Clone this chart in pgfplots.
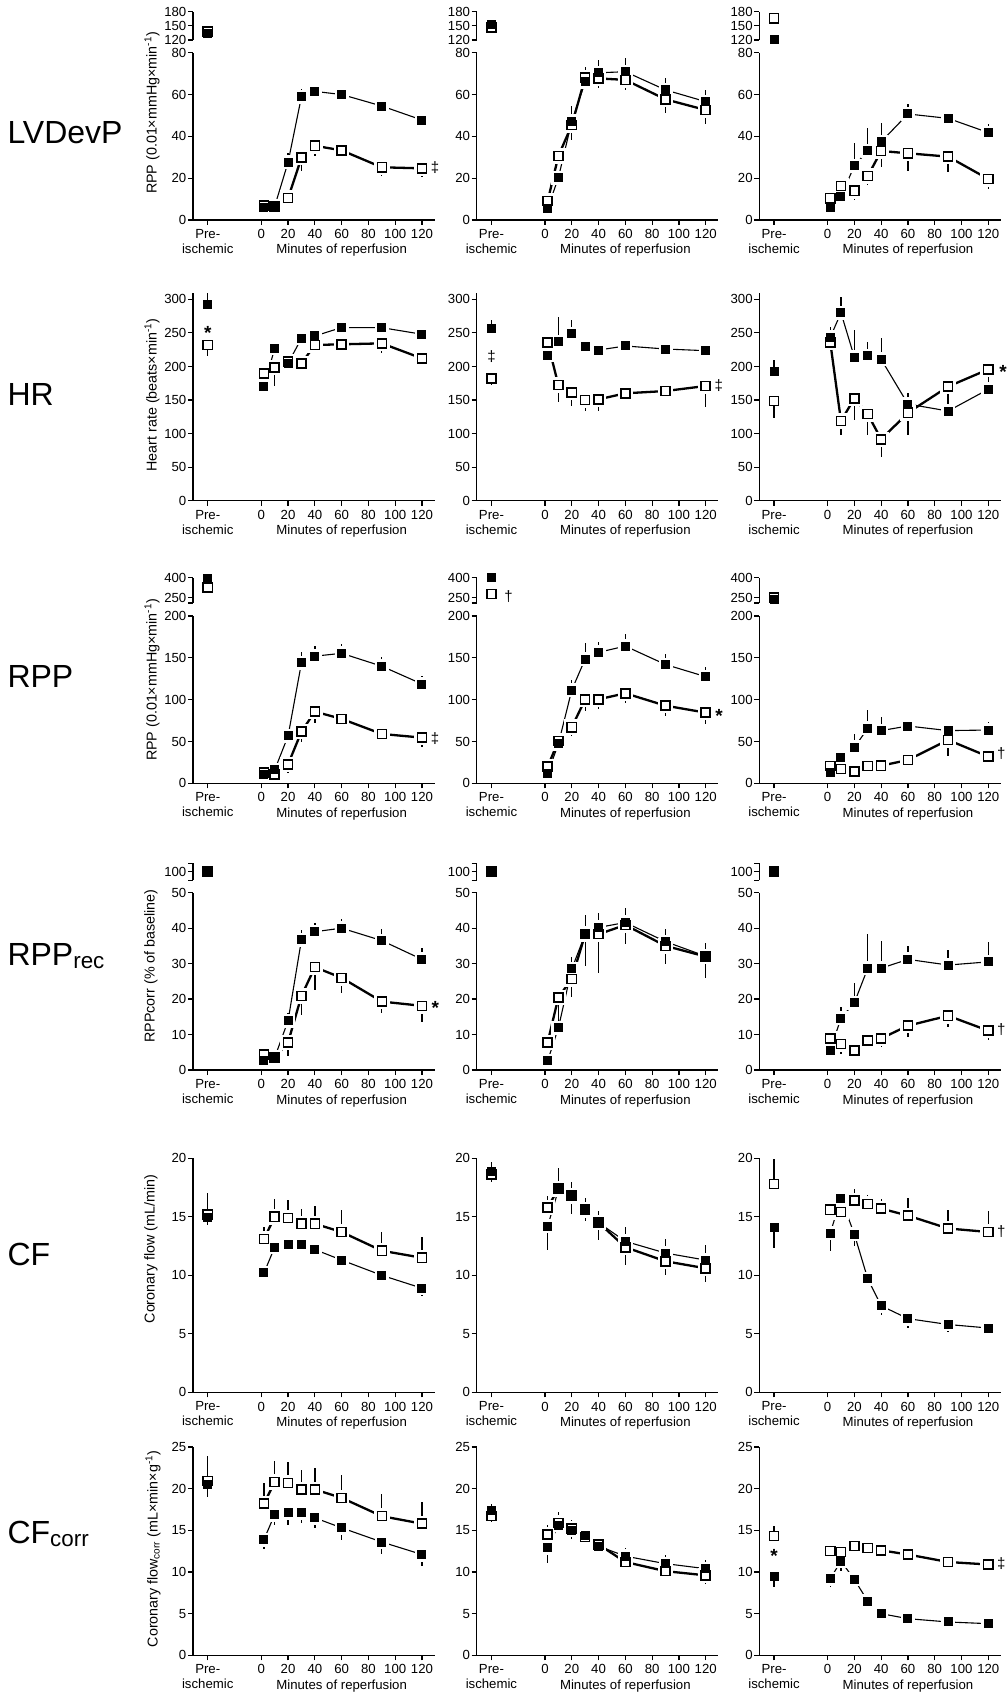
\documentclass[border=0pt]{standalone}
\usepackage{fontspec}
\setmainfont{Liberation Sans}
\usepackage{pgfplots}
\pgfplotsset{compat=1.18}
\newcommand{\fs}{\fontsize{13.2}{15}\selectfont}
\newcommand{\ls}{\fontsize{14.3}{16}\selectfont}
\newcommand{\ts}{\fontsize{32}{36}\selectfont}
\pgfdeclareplotmark{hsq}{%
  \pgfsetfillcolor{white}%
  \pgfpathrectangle{\pgfpoint{-\pgfplotmarksize}{-\pgfplotmarksize}}{\pgfpoint{2*\pgfplotmarksize}{2*\pgfplotmarksize}}%
  \pgfusepath{fill}%
}
\pgfdeclareplotmark{fsq}{%
  \pgfsetfillcolor{black}%
  \pgfpathrectangle{\pgfpoint{-\pgfplotmarksize}{-\pgfplotmarksize}}{\pgfpoint{2*\pgfplotmarksize}{2*\pgfplotmarksize}}%
  \pgfusepath{fill}%
}
\pgfdeclareplotmark{osq}{%
  \pgfsetlinewidth{1.5pt}%
  \pgfsetstrokecolor{black}%
  \pgfsetfillcolor{white}%
  \pgfpathrectangle{\pgfpoint{-\pgfplotmarksize+0.75pt}{-\pgfplotmarksize+0.75pt}}{\pgfpoint{2*\pgfplotmarksize-1.5pt}{2*\pgfplotmarksize-1.5pt}}%
  \pgfusepath{fill,stroke}%
}
\tikzset{
  ann/.style={font=\fontsize{15}{16}\selectfont, anchor=west},
  star/.style={font=\bfseries\fontsize{19}{20}\selectfont, yshift=-3pt},
}
\pgfplotsset{
  myax/.style={anchor=south west, scale only axis, width=241.7pt, xmin=-51, xmax=129.5, clip=false,
    axis y line*=left, axis line style={-, line width=1.2pt},
    tick align=outside, major tick length=5pt, tick style={line width=1.2pt, black},
    ticklabel style={font=\fs}, yticklabel style={inner xsep=1.5pt},
    /pgf/number format/assume math mode=true},
  mainax/.style={myax, axis x line*=bottom, ymin=0, xtick={-40,0,20,40,60,80,100,120},
    xticklabels={{Pre-\\ischemic},0,20,40,60,80,100,120},
    xticklabel style={align=center, inner ysep=4.2pt},
    after end axis/.code={\node[font=\fs, anchor=base, yshift=-34pt] at (axis cs:60,0) {Minutes of reperfusion};}},
  upax/.style={myax, hide x axis},
  fl/.style={black, line width=1.1pt, mark=none},
  ol/.style={black, line width=2.3pt, mark=none},
  fh/.style={only marks, mark=hsq, mark size=7pt},
  oh/.style={only marks, mark=hsq, mark size=7.8pt},
  errs/.style={error bars/y dir=both, error bars/y explicit, error bars/error mark=none,
    error bars/error bar style={line width=1.3pt, solid, black}},
  fm/.style={black, only marks, mark=fsq, mark size=4.5pt, errs},
  om/.style={black, only marks, mark=osq, mark size=5.3pt, errs},
}
% #1 open series, #2 filled series
\newcommand{\pair}[2]{%
  \addplot[ol] coordinates {#1};
  \addplot[fl] coordinates {#2};
  \addplot[oh] coordinates {#1};
  \addplot[fh] coordinates {#2};
  \addplot[om] coordinates {#1};
  \addplot[fm] coordinates {#2};
}
\newcommand{\pre}[2]{%
  \addplot[om] coordinates {#1};
  \addplot[fm] coordinates {#2};
}
\begin{document}
\begin{tikzpicture}
\useasboundingbox (0pt,0pt) rectangle (1006pt,-1693pt);
% row titles
\node[anchor=base west, font=\ts] at (4pt,-144pt) {LVDevP};
\node[anchor=base west, font=\ts] at (4pt,-405pt) {HR};
\node[anchor=base west, font=\ts] at (4pt,-687pt) {RPP};
\node[anchor=base west, font=\ts] at (4pt,-965pt) {RPP\textsubscript{rec}};
\node[anchor=base west, font=\ts] at (4pt,-1265pt) {CF};
\node[anchor=base west, font=\ts] at (4pt,-1543pt) {CF\textsubscript{corr}};
% y labels
\node[rotate=90, font=\ls] at (152pt,-113pt) {RPP (0.01×mmHg×min\textsuperscript{-1})};
\node[rotate=90, font=\ls] at (152pt,-395pt) {Heart rate (beats×min\textsuperscript{-1})};
\node[rotate=90, font=\ls] at (152pt,-680pt) {RPP (0.01×mmHg×min\textsuperscript{-1})};
\node[rotate=90, font=\ls] at (151pt,-966pt) {RPPcorr (\% of baseline)};
\node[rotate=90, font=\ls] at (151pt,-1249pt) {Coronary flow (mL/min)};
\node[rotate=90, font=\ls] at (153pt,-1549pt) {Coronary flow\textsubscript{corr} (mL×min×g\textsuperscript{-1})};

%================ ROW 1 LVDevP
\begin{axis}[upax, at={(193pt,-40pt)}, height=28.3pt, ymin=120, ymax=180, ytick={120,150,180}]
\pre{(-40,137.6) += (0,0) -= (0,3)}{(-40,134) += (0,3) -= (0,0)}
\end{axis}
\begin{axis}[mainax, at={(193pt,-220pt)}, height=167.3pt, ymax=80, ytick={0,20,40,60,80}]
\pair{(2,7) += (0,0) -= (0,1) (10,6.5) += (0,0) -= (0,1.5) (20,10.5) += (0,0) -= (0,4) (30,29.8) += (0,0) -= (0,6.5) (40,35.5) += (0,0) -= (0,5) (60,33.3) += (0,0) -= (0,3.5) (90,25.2) += (0,0) -= (0,4) (120,24.7) += (0,0) -= (0,4.3)}
{(2,6) += (0,1) -= (0,0) (10,6.5) += (0,1) -= (0,0) (20,27.6) += (0,4.5) -= (0,0) (30,59) += (0,3.5) -= (0,0) (40,61.5) += (0,3) -= (0,0) (60,60) += (0,2) -= (0,0) (90,54.5) += (0,1.5) -= (0,0) (120,47.8) += (0,2.7) -= (0,0)}
\node[ann] at (axis cs:124,25) {‡};
\end{axis}

\begin{axis}[upax, at={(476.7pt,-40pt)}, height=28.3pt, ymin=120, ymax=180, ytick={120,150,180}]
\pre{(-40,147) += (0,0) -= (0,3)}{(-40,153) += (0,3) -= (0,0)}
\end{axis}
\begin{axis}[mainax, at={(476.7pt,-220pt)}, height=167.3pt, ymax=80, ytick={0,20,40,60,80}]
\pair{(2,9.1) += (0,0) -= (0,1) (10,30.6) += (0,0) -= (0,4) (20,45.4) += (0,0) -= (0,7) (30,68) += (0,5) -= (0,0) (40,67.7) += (0,0) -= (0,4.5) (60,67) += (0,0) -= (0,5) (90,57.7) += (0,0) -= (0,6.5) (120,52.6) += (0,0) -= (0,6.5)}
{(2,5.6) += (0,1) -= (0,0) (10,20.2) += (0,2) -= (0,0) (20,47.2) += (0,7.5) -= (0,0) (30,66) += (0,5) -= (0,0) (40,70.4) += (0,6) -= (0,0) (60,70.9) += (0,6.5) -= (0,0) (90,62.2) += (0,5.5) -= (0,0) (120,56.6) += (0,5.5) -= (0,0)}
\end{axis}

\begin{axis}[upax, at={(759.3pt,-40pt)}, height=28.3pt, ymin=120, ymax=180, ytick={120,150,180}]
\pre{(-40,166) += (0,0) -= (0,0)}{(-40,121.5) += (0,5) -= (0,0)}
\end{axis}
\begin{axis}[mainax, at={(759.3pt,-220pt)}, height=167.3pt, ymax=80, ytick={0,20,40,60,80}]
\pair{(2,10.4) += (0,0) -= (0,1) (10,16.3) += (0,0) -= (0,1) (20,14) += (0,0) -= (0,4.4) (30,21) += (0,0) -= (0,4.3) (40,33) += (0,0) -= (0,7.5) (60,31.9) += (0,0) -= (0,8.3) (90,30.3) += (0,0) -= (0,7.3) (120,19.6) += (0,0) -= (0,4.8)}
{(2,6) += (0,0.5) -= (0,0) (10,11.2) += (0,1) -= (0,0) (20,26) += (0,10.7) -= (0,0) (30,33.1) += (0,10.7) -= (0,0) (40,37.4) += (0,9) -= (0,0) (60,50.7) += (0,5) -= (0,0) (90,48.6) += (0,3.5) -= (0,0) (120,41.8) += (0,4.2) -= (0,0)}
\end{axis}

%================ ROW 2 HR
\begin{axis}[mainax, at={(193pt,-500.7pt)}, height=207.4pt, ymax=309, ytick={0,50,...,300}]
\pre{(-40,232) += (0,0) -= (0,16)}{(-40,291.6) += (0,18) -= (0,0)}
\pair{(2,189.7) += (0,0) -= (0,3) (10,198.7) += (0,0) -= (0,28) (20,207) += (0,12) -= (0,12) (30,204.6) += (0,0) -= (0,10) (40,232) += (0,0) -= (0,11) (60,233) += (0,0) -= (0,9) (90,234.4) += (0,0) -= (0,15) (120,212) += (0,0) -= (0,12)}
{(2,170) += (0,0) -= (0,0) (10,227) += (0,8) -= (0,0) (20,204.6) += (0,8) -= (0,0) (30,242) += (0,10) -= (0,0) (40,245.4) += (0,8) -= (0,0) (60,258) += (0,6) -= (0,0) (90,257.8) += (0,7) -= (0,0) (120,248) += (0,7) -= (0,0)}
\node[star] at (axis cs:-40,254) {*};
\end{axis}

\begin{axis}[mainax, at={(476.7pt,-500.7pt)}, height=207.4pt, ymax=309, ytick={0,50,...,300}]
\pre{(-40,182) += (0,0) -= (0,10)}{(-40,256) += (0,13) -= (0,0)}
\pair{(2,235.4) += (0,0) -= (0,0) (10,172.4) += (0,0) -= (0,25) (20,161.4) += (0,0) -= (0,21) (30,150) += (0,0) -= (0,17) (40,151) += (0,0) -= (0,17) (60,160) += (0,0) -= (0,10) (90,163.4) += (0,0) -= (0,12) (120,170.9) += (0,0) -= (0,31)}
{(2,217) += (0,0) -= (0,0) (10,237) += (0,36) -= (0,0) (20,249) += (0,20) -= (0,0) (30,229.5) += (0,8) -= (0,0) (40,224.5) += (0,3) -= (0,0) (60,230.5) += (0,3) -= (0,0) (90,226) += (0,3) -= (0,0) (120,223.5) += (0,3) -= (0,0)}
\node[font=\fontsize{15}{16}\selectfont] at (axis cs:-40,214) {‡};
\node[ann] at (axis cs:124,172) {‡};
\end{axis}

\begin{axis}[mainax, at={(759.3pt,-500.7pt)}, height=207.4pt, ymax=309, ytick={0,50,...,300}]
\pre{(-40,148.5) += (0,0) -= (0,26)}{(-40,192) += (0,18) -= (0,0)}
\pair{(2,236) += (0,0) -= (0,0) (10,118.7) += (0,0) -= (0,21) (20,152.5) += (0,0) -= (0,33) (30,129) += (0,0) -= (0,31) (40,91.4) += (0,0) -= (0,26) (60,131) += (0,0) -= (0,33) (90,170) += (0,0) -= (0,36.4) (120,195.7) += (0,0) -= (0,31)}
{(2,243.4) += (0,16) -= (0,0) (10,280) += (0,24) -= (0,0) (20,213.6) += (0,40) -= (0,0) (30,216) += (0,21) -= (0,0) (40,210.6) += (0,32) -= (0,0) (60,144) += (0,17) -= (0,0) (90,133.6) += (0,0) -= (0,0) (120,166) += (0,3) -= (0,0)}
\node[star] at (axis cs:131,197) {*};
\end{axis}

%================ ROW 3 RPP
\begin{axis}[upax, at={(193pt,-603pt)}, height=25.3pt, ymin=210, ymax=400, ytick={250,400}, extra y ticks={210}, extra y tick labels={}]
\pre{(-40,325) += (0,0) -= (0,0)}{(-40,395) += (0,0) -= (0,0)}
\end{axis}
\begin{axis}[mainax, at={(193pt,-783.3pt)}, height=167.3pt, ymax=200, ytick={0,50,...,200}]
\pair{(2,13) += (0,0) -= (0,2) (10,10.8) += (0,0) -= (0,2) (20,22.7) += (0,0) -= (0,10) (30,61.8) += (0,0) -= (0,13) (40,85.7) += (0,0) -= (0,14) (60,77) += (0,0) -= (0,8) (90,59) += (0,0) -= (0,9) (120,54.6) += (0,0) -= (0,11.6)}
{(2,10) += (0,1) -= (0,0) (10,16) += (0,2) -= (0,0) (20,56.6) += (0,5) -= (0,0) (30,144) += (0,13) -= (0,0) (40,152) += (0,12) -= (0,0) (60,155.4) += (0,11) -= (0,0) (90,140) += (0,10.6) -= (0,0) (120,118.7) += (0,9) -= (0,0)}
\node[ann] at (axis cs:124,54) {‡};
\end{axis}

\begin{axis}[upax, at={(476.7pt,-603pt)}, height=25.3pt, ymin=210, ymax=400, ytick={250,400}, extra y ticks={210}, extra y tick labels={}]
\pre{(-40,277.5) += (0,0) -= (0,0)}{(-40,400) += (0,0) -= (0,0)}
\node[ann] at (axis cs:-33,262) {†};
\end{axis}
\begin{axis}[mainax, at={(476.7pt,-783.3pt)}, height=167.3pt, ymax=200, ytick={0,50,...,200}]
\pair{(2,20) += (0,0) -= (0,2) (10,50.6) += (0,0) -= (0,5) (20,67) += (0,0) -= (0,11) (30,100.4) += (0,0) -= (0,13.4) (40,100.4) += (0,0) -= (0,11) (60,107.6) += (0,0) -= (0,12) (90,92.8) += (0,0) -= (0,12.3) (120,84.5) += (0,0) -= (0,14)}
{(2,12) += (0,1) -= (0,0) (10,47) += (0,3) -= (0,0) (20,111.5) += (0,12.5) -= (0,0) (30,148.6) += (0,18.7) -= (0,0) (40,156.6) += (0,12.7) -= (0,0) (60,164) += (0,14) -= (0,0) (90,142) += (0,13) -= (0,0) (120,127.5) += (0,11.5) -= (0,0)}
\node[star] at (axis cs:130,84) {*};
\end{axis}

\begin{axis}[upax, at={(759.3pt,-603pt)}, height=25.3pt, ymin=210, ymax=400, ytick={250,400}, extra y ticks={210}, extra y tick labels={}]
\pre{(-40,252) += (0,0) -= (0,0)}{(-40,238) += (0,0) -= (0,0)}
\end{axis}
\begin{axis}[mainax, at={(759.3pt,-783.3pt)}, height=167.3pt, ymax=200, ytick={0,50,...,200}]
\pair{(2,20.7) += (0,0) -= (0,2) (10,17) += (0,0) -= (0,2) (20,14) += (0,0) -= (0,1) (30,20.7) += (0,0) -= (0,2) (40,21) += (0,0) -= (0,2) (60,27.9) += (0,0) -= (0,2) (90,51.8) += (0,0) -= (0,19) (120,31.9) += (0,0) -= (0,6)}
{(2,12.7) += (0,1) -= (0,0) (10,31) += (0,3) -= (0,0) (20,43) += (0,15.6) -= (0,0) (30,65.7) += (0,22) -= (0,0) (40,63) += (0,16.7) -= (0,0) (60,68.5) += (0,8) -= (0,0) (90,63) += (0,2) -= (0,0) (120,63.7) += (0,10) -= (0,0)}
\node[ann] at (axis cs:124,36) {†};
\end{axis}

%================ ROW 4 RPPrec
\begin{axis}[upax, at={(193pt,-880.3pt)}, height=17.1pt, ymin=91, ymax=109, ytick={100}, extra y ticks={91,109}, extra y tick labels={}]
\pre{(-40,100) += (0,0) -= (0,0)}{(-40,100) += (0,0) -= (0,0)}
\end{axis}
\begin{axis}[mainax, at={(193pt,-1070pt)}, height=177.3pt, ymax=50, ytick={0,10,...,50}]
\pair{(2,4.4) += (0,0) -= (0,0) (10,3.5) += (0,0) -= (0,0) (20,7.8) += (0,0) -= (0,3.8) (30,20.9) += (0,0) -= (0,5.4) (40,29) += (0,0) -= (0,6.3) (60,26) += (0,0) -= (0,4.4) (90,19.3) += (0,0) -= (0,3.1) (120,18.1) += (0,0) -= (0,4.5)}
{(2,2.6) += (0,0) -= (0,0) (10,3.5) += (0,0) -= (0,0) (20,13.9) += (0,2.3) -= (0,0) (30,36.7) += (0,2.8) -= (0,0) (40,39) += (0,2.5) -= (0,0) (60,40) += (0,2.7) -= (0,0) (90,36.5) += (0,3.2) -= (0,0) (120,31.2) += (0,3.1) -= (0,0)}
\node[star] at (axis cs:130,18.3) {*};
\end{axis}

\begin{axis}[upax, at={(476.7pt,-880.3pt)}, height=17.1pt, ymin=91, ymax=109, ytick={100}, extra y ticks={91,109}, extra y tick labels={}]
\pre{(-40,100) += (0,0) -= (0,0)}{(-40,100) += (0,0) -= (0,0)}
\end{axis}
\begin{axis}[mainax, at={(476.7pt,-1070pt)}, height=177.3pt, ymax=50, ytick={0,10,...,50}]
\pair{(2,7.8) += (0,0) -= (0,1) (10,20.5) += (0,0) -= (0,8.3) (20,25.7) += (0,0) -= (0,5) (30,38.3) += (0,0) -= (0,9) (40,38.3) += (0,0) -= (0,11) (60,40.9) += (0,0) -= (0,5.4) (90,35) += (0,0) -= (0,5) (120,32) += (0,0) -= (0,6)}
{(2,2.6) += (0,0) -= (0,0) (10,11.9) += (0,1) -= (0,0) (20,28.5) += (0,3.5) -= (0,0) (30,38.3) += (0,5.3) -= (0,0) (40,40.2) += (0,4) -= (0,0) (60,41.6) += (0,4) -= (0,0) (90,36.2) += (0,3.5) -= (0,0) (120,32.1) += (0,3.6) -= (0,0)}
\end{axis}

\begin{axis}[upax, at={(759.3pt,-880.3pt)}, height=17.1pt, ymin=91, ymax=109, ytick={100}, extra y ticks={91,109}, extra y tick labels={}]
\pre{(-40,100) += (0,0) -= (0,0)}{(-40,100) += (0,0) -= (0,0)}
\end{axis}
\begin{axis}[mainax, at={(759.3pt,-1070pt)}, height=177.3pt, ymax=50, ytick={0,10,...,50}]
\pair{(2,8.9) += (0,0) -= (0,1) (10,7.3) += (0,0) -= (0,2.8) (20,5.5) += (0,0) -= (0,0.5) (30,8.3) += (0,0) -= (0,2.2) (40,8.9) += (0,0) -= (0,2.3) (60,12.5) += (0,0) -= (0,3.1) (90,15.3) += (0,0) -= (0,3.1) (120,11.1) += (0,0) -= (0,2.5)}
{(2,5.6) += (0,0) -= (0,0) (10,14.6) += (0,3.3) -= (0,0) (20,19) += (0,5.4) -= (0,0) (30,28.7) += (0,9.6) -= (0,0) (40,28.7) += (0,7.7) -= (0,0) (60,31.2) += (0,3.7) -= (0,0) (90,29.6) += (0,4.2) -= (0,0) (120,30.5) += (0,5.7) -= (0,0)}
\node[ann] at (axis cs:124,11.5) {†};
\end{axis}

%================ ROW 5 CF
\begin{axis}[mainax, at={(193pt,-1392.4pt)}, height=234.2pt, ymax=20, ytick={0,5,...,20}]
\pre{(-40,15.2) += (0,1.8) -= (0,0)}{(-40,14.9) += (0,0) -= (0,0.6)}
\pair{(2,13.1) += (0,1) -= (0,0) (10,15) += (0,1.5) -= (0,0) (20,14.9) += (0,1.5) -= (0,0) (30,14.4) += (0,1.3) -= (0,0) (40,14.4) += (0,1.5) -= (0,0) (60,13.7) += (0,1.9) -= (0,0) (90,12.1) += (0,1.6) -= (0,0) (120,11.5) += (0,1.8) -= (0,0)}
{(2,10.2) += (0,0) -= (0,0.6) (10,12.4) += (0,0) -= (0,0.5) (20,12.6) += (0,0) -= (0,0.4) (30,12.6) += (0,0) -= (0,0.5) (40,12.2) += (0,0) -= (0,0.5) (60,11.3) += (0,0) -= (0,0.5) (90,10) += (0,0) -= (0,0.6) (120,8.9) += (0,0) -= (0,0.7)}
\end{axis}

\begin{axis}[mainax, at={(476.7pt,-1392.4pt)}, height=234.2pt, ymax=20, ytick={0,5,...,20}]
\pre{(-40,18.6) += (0,0) -= (0,0.6)}{(-40,18.9) += (0,0.8) -= (0,0)}
\pair{(2,15.8) += (0,1) -= (0,0) (10,17.4) += (0,1.8) -= (0,0) (20,16.8) += (0,1.2) -= (0,0) (30,15.6) += (0,1) -= (0,0) (40,14.5) += (0,1) -= (0,0) (60,12.4) += (0,0) -= (0,1.5) (90,11.2) += (0,0) -= (0,1.2) (120,10.6) += (0,0) -= (0,1.2)}
{(2,14.2) += (0,0) -= (0,2) (10,17.3) += (0,0.5) -= (0,0) (20,16.7) += (0,0) -= (0,1.5) (30,15.6) += (0,0) -= (0,1) (40,14.5) += (0,0) -= (0,1.5) (60,12.9) += (0,1.2) -= (0,0) (90,11.9) += (0,1.2) -= (0,0) (120,11.3) += (0,1.3) -= (0,0)}
\end{axis}

\begin{axis}[mainax, at={(759.3pt,-1392.4pt)}, height=234.2pt, ymax=20, ytick={0,5,...,20}]
\pre{(-40,17.8) += (0,2.1) -= (0,0)}{(-40,14.1) += (0,0) -= (0,1.8)}
\pair{(2,15.6) += (0,0.5) -= (0,0) (10,15.4) += (0,0.5) -= (0,0) (20,16.4) += (0,1) -= (0,0) (30,16.1) += (0,0.8) -= (0,0) (40,15.7) += (0,0.8) -= (0,0) (60,15.1) += (0,1.5) -= (0,0) (90,14) += (0,1.6) -= (0,0) (120,13.7) += (0,1.8) -= (0,0)}
{(2,13.6) += (0,0) -= (0,1.5) (10,16.6) += (0,0) -= (0,0.5) (20,13.5) += (0,0) -= (0,1) (30,9.7) += (0,0) -= (0,0.6) (40,7.4) += (0,0) -= (0,0.8) (60,6.3) += (0,0) -= (0,0.8) (90,5.8) += (0,0) -= (0,0.6) (120,5.5) += (0,0) -= (0,0.6)}
\node[ann] at (axis cs:124,13.7) {†};
\end{axis}

%================ ROW 6 CFcorr
\begin{axis}[mainax, at={(193pt,-1655.3pt)}, height=208.3pt, ymax=25, ytick={0,5,...,25}]
\pre{(-40,20.9) += (0,3) -= (0,0)}{(-40,20.5) += (0,0) -= (0,1.5)}
\pair{(2,18.2) += (0,2.5) -= (0,0) (10,20.8) += (0,2.5) -= (0,0) (20,20.7) += (0,2.5) -= (0,0) (30,19.9) += (0,2.4) -= (0,0) (40,19.9) += (0,2.6) -= (0,0) (60,18.9) += (0,2.8) -= (0,0) (90,16.7) += (0,2.7) -= (0,0) (120,15.8) += (0,2.6) -= (0,0)}
{(2,13.9) += (0,0) -= (0,1.1) (10,16.9) += (0,0) -= (0,1.3) (20,17.1) += (0,0) -= (0,1.4) (30,17.1) += (0,0) -= (0,1.2) (40,16.5) += (0,0) -= (0,1.2) (60,15.3) += (0,0) -= (0,1.4) (90,13.6) += (0,0) -= (0,1.4) (120,12.1) += (0,0) -= (0,1.4)}
\end{axis}

\begin{axis}[mainax, at={(476.7pt,-1655.3pt)}, height=208.3pt, ymax=25, ytick={0,5,...,25}]
\pre{(-40,16.7) += (0,0) -= (0,0.7)}{(-40,17.4) += (0,0.8) -= (0,0)}
\pair{(2,14.5) += (0,1.2) -= (0,0) (10,15.9) += (0,1.3) -= (0,0) (20,15.2) += (0,1) -= (0,0) (30,14.2) += (0,1) -= (0,0) (40,13.3) += (0,0.8) -= (0,0) (60,11.2) += (0,0) -= (0,1) (90,10.1) += (0,0) -= (0,1) (120,9.6) += (0,0) -= (0,1)}
{(2,12.9) += (0,0) -= (0,1.8) (10,15.6) += (0,0.8) -= (0,0) (20,15) += (0,0) -= (0,1) (30,14.4) += (0,0) -= (0,1) (40,13.1) += (0,0) -= (0,0.8) (60,11.9) += (0,1) -= (0,0) (90,11) += (0,1) -= (0,0) (120,10.4) += (0,1) -= (0,0)}
\end{axis}

\begin{axis}[mainax, at={(759.3pt,-1655.3pt)}, height=208.3pt, ymax=25, ytick={0,5,...,25}]
\pre{(-40,14.3) += (0,1.2) -= (0,0)}{(-40,9.5) += (0,0) -= (0,1.3)}
\pair{(2,12.5) += (0,0.5) -= (0,0) (10,12.4) += (0,0.5) -= (0,0) (20,13.1) += (0,0.5) -= (0,0) (30,12.9) += (0,0.5) -= (0,0) (40,12.6) += (0,0.5) -= (0,0) (60,12.1) += (0,0.5) -= (0,0) (90,11.2) += (0,0.8) -= (0,0) (120,10.9) += (0,0.7) -= (0,0)}
{(2,9.2) += (0,0) -= (0,1) (10,11.3) += (0,0) -= (0,1.2) (20,9.1) += (0,0) -= (0,0.5) (30,6.5) += (0,0) -= (0,0.5) (40,5) += (0,0) -= (0,0.5) (60,4.4) += (0,0) -= (0,0.5) (90,4) += (0,0) -= (0,0.5) (120,3.8) += (0,0) -= (0,0.6)}
\node[star] at (axis cs:-40,12.3) {*};
\node[ann] at (axis cs:124,11) {‡};
\end{axis}
\end{tikzpicture}
\end{document}
